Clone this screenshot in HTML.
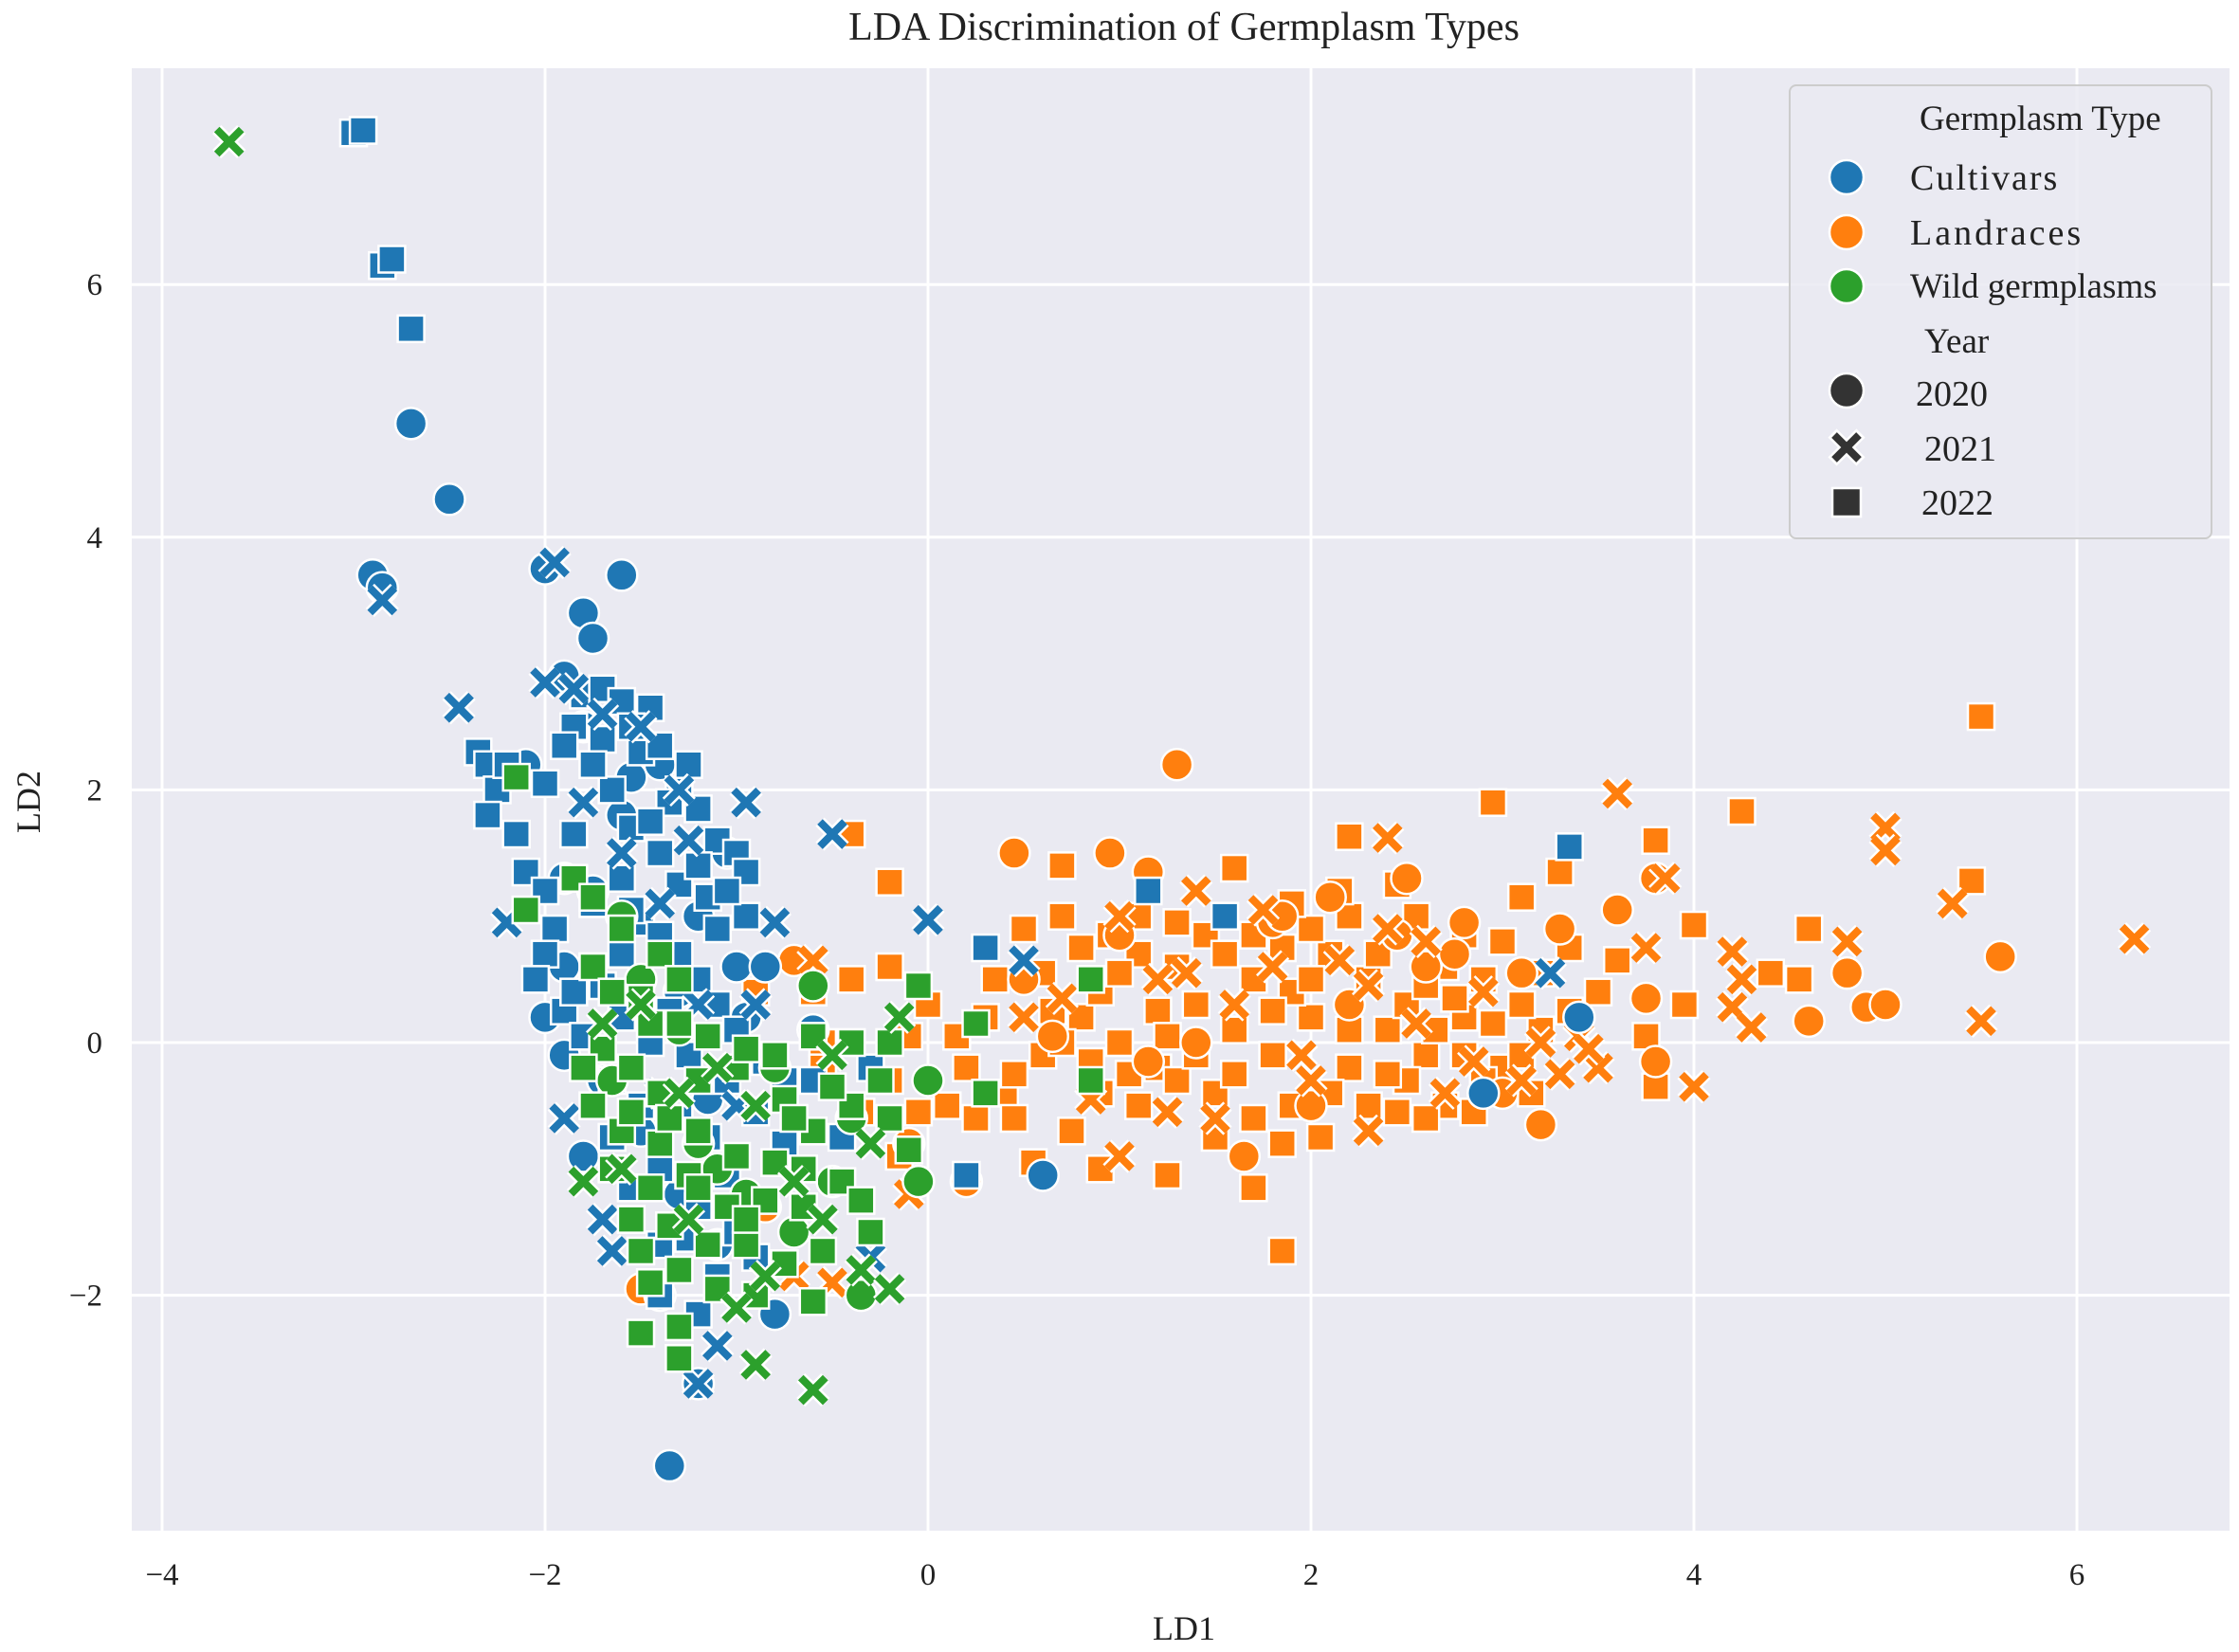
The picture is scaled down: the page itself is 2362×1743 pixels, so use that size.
<!DOCTYPE html>
<html><head><meta charset="utf-8"><style>
html,body{margin:0;padding:0;background:#fff;}
svg{display:block;font-family:"Liberation Serif",serif;}
</style></head><body>
<svg id="chart" width="2362" height="1743" viewBox="0 0 2362 1743" xmlns="http://www.w3.org/2000/svg">
<rect x="0" y="0" width="2362" height="1743" fill="#ffffff"/>
<rect x="139" y="72" width="2213" height="1543" fill="#eaeaf2"/>
<g id="grid"></g>
<g id="marks"></g>
<g id="ticks"></g>
<text x="1249" y="42" font-size="42" text-anchor="middle" fill="#222">LDA Discrimination of Germplasm Types</text>
<text x="1249" y="1730" font-size="36" text-anchor="middle" fill="#222">LD1</text>
<text x="42" y="846" font-size="36" text-anchor="middle" fill="#222" transform="rotate(-90 42 846)">LD2</text>
<g>
<rect x="1888" y="90" width="445" height="478" rx="7" fill="#eaeaf2" fill-opacity="0.85" stroke="#cccccc" stroke-width="2"/>
<text x="2025" y="137" font-size="37" fill="#222">Germplasm Type</text>
<circle cx="1948" cy="187" r="18" fill="#1f77b4" stroke="#fff" stroke-width="2.5"/>
<text x="2015" y="200" font-size="38" letter-spacing="2" fill="#222">Cultivars</text>
<circle cx="1948" cy="245" r="18" fill="#ff7f0e" stroke="#fff" stroke-width="2.5"/>
<text x="2015" y="258" font-size="38" letter-spacing="3" fill="#222">Landraces</text>
<circle cx="1948" cy="302" r="18" fill="#2ca02c" stroke="#fff" stroke-width="2.5"/>
<text x="2015" y="314" font-size="37" fill="#222">Wild germplasms</text>
<text x="2030" y="372" font-size="37" fill="#222">Year</text>
<circle cx="1948" cy="412" r="18" fill="#333" stroke="#fff" stroke-width="2.5"/>
<text x="2021" y="428" font-size="38" fill="#222">2020</text>
<path d="M1933,457 L1963,487 M1963,457 L1933,487" stroke="#fff" stroke-width="13"/>
<path d="M1935,459 L1961,485 M1961,459 L1935,485" stroke="#333" stroke-width="8"/>
<text x="2030" y="486" font-size="38" fill="#222">2021</text>
<rect x="1933" y="515" width="30" height="30" fill="#333" stroke="#fff" stroke-width="2.5"/>
<text x="2027" y="543" font-size="38" fill="#222">2022</text>
</g>
</svg>
<script>
const xTicks = [-4,-2,0,2,4,6];
const yTicks = [-2,0,2,4,6];
const colors = {cult:"#1f77b4", land:"#ff7f0e", wild:"#2ca02c"};

const cult2020 = [[-2.7,4.9],[-2.5,4.3],[-2.9,3.7],[-2.85,3.6],[-1.6,3.7],[-1.8,3.4],[-1.75,3.2],[-2,3.75],[-1.9,2.9],[-2.1,2.2],[-1.9,1.3],[-2,0.2],[-1.9,-0.1],[-1.8,-0.9],[-1.35,-3.35],[-0.8,-2.15],[-1.2,-2.7],[0.6,-1.05],[-1.4,-2],[-1.2,1],[-1,0.6],[-1.5,0.3],[-1.7,-0.3],[-1.3,-1.2],[-1.1,-1.6],[-1.6,1.8],[-1.4,2.2],[-1.8,2.5],[-1.05,1.5],[-0.85,0.6],[-0.6,0.1],[3.4,0.2],[2.9,-0.4],[-1.9,0.6],[-1.5,-0.7],[-1.75,1.2],[-1.3,0.4],[-1.15,-0.45],[-0.95,0.2],[-1.55,2.1]];
const cult2021 = [[-2.85,3.5],[-1.95,3.8],[-2.45,2.65],[-2,2.85],[-1.85,2.8],[-0.95,1.9],[-0.5,1.65],[0,0.97],[0.5,0.65],[-2.2,0.95],[-1.9,-0.6],[-1.7,-1.4],[-1.65,-1.65],[-1.2,-2.7],[-1.1,-2.4],[-0.8,0.95],[-1.3,2],[-1.6,1.5],[-1.4,1.1],[-1.2,0.3],[-0.3,-1.7],[3.25,0.55],[-1.8,1.9],[-1.5,2.5],[-1.0,-0.5],[-1.4,-0.4],[-1.7,2.6],[-1.25,1.6],[-0.9,0.3]];
const cult2022 = [[-3,7.2],[-2.95,7.22],[-2.85,6.15],[-2.8,6.2],[-2.7,5.65],[-2.35,2.3],[-2.3,2.2],[-2.25,2.0],[-2.3,1.8],[-2.15,1.65],[-2.1,1.35],[-2,1.2],[-1.95,0.9],[-2,0.7],[-2.05,0.5],[-1.9,0.25],[-1.85,2.5],[-1.8,2.75],[-1.7,2.8],[-1.6,2.7],[-1.45,2.65],[-1.5,2.3],[-1.3,2.0],[-1.2,1.85],[-1.1,1.6],[-1.0,1.5],[-0.95,1.0],[-1.7,2.4],[-1.65,2.0],[-1.55,1.7],[-1.4,1.5],[-1.3,1.25],[-1.15,1.15],[-1.6,1.3],[-1.75,1.1],[-1.5,0.95],[-1.3,0.7],[-1.2,0.5],[-1.1,0.3],[-1.75,0.6],[-1.6,0.2],[-1.45,0],[-1.25,-0.1],[-1.05,-0.3],[-0.9,-0.55],[-1.8,0.05],[-1.65,-0.3],[-1.5,-0.5],[-1.3,-0.6],[-1.65,-0.75],[-1.4,-1.0],[-1.2,-1.3],[-1.0,-1.5],[-0.9,-1.7],[-1.1,-1.85],[-1.4,-1.6],[-1.4,-2.0],[-1.2,-2.15],[1.15,1.2],[1.55,1.0],[0.3,0.75],[0.2,-1.05],[3.35,1.55],[-0.75,-0.8],[-0.6,-0.3],[-0.45,-0.75],[-0.3,-0.2],[-0.95,1.35],[-1.85,1.65],[-2.0,2.05],[-1.9,2.35],[-1.75,2.2],[-1.55,2.5],[-1.4,2.35],[-1.25,2.2],[-1.35,1.9],[-1.45,1.75],[-1.2,1.4],[-1.05,1.2],[-1.1,0.9],[-1.4,0.85],[-1.6,0.7],[-1.85,0.4],[-1.7,0.45],[-1.35,0.25],[-1.0,0.1],[-0.85,-0.15],[-1.15,-0.75],[-1.55,-1.15],[-1.25,-1.55],[-1.05,-1.05],[-0.75,-0.3],[-1.55,1.05],[-2.2,2.2]];
const land2020 = [[1.3,2.2],[0.45,1.5],[0.95,1.5],[1.15,1.35],[2.5,1.3],[3.6,1.05],[3.8,1.3],[5.6,0.68],[4.8,0.55],[4.9,0.28],[5.0,0.3],[4.6,0.17],[3.8,-0.15],[3.2,-0.65],[3.0,-0.4],[1.65,-0.9],[2.1,1.15],[2.8,0.95],[3.3,0.9],[1.8,0.95],[-0.7,0.65],[-0.1,-0.8],[0.2,-1.1],[0.5,0.5],[2.2,0.3],[1.0,0.85],[3.75,0.35],[2.0,-0.5],[1.4,0.0],[2.6,0.6],[-1.5,-1.95],[-0.85,-1.3],[1.85,1.0],[2.45,0.85],[2.75,0.7],[3.1,0.55],[0.65,0.05],[1.15,-0.15]];
const land2021 = [[3.6,1.97],[2.4,1.62],[5.0,1.7],[5.0,1.52],[3.85,1.3],[5.35,1.1],[6.3,0.82],[4.8,0.8],[3.75,0.75],[4.2,0.72],[4.25,0.5],[4.2,0.28],[4.3,0.12],[5.5,0.17],[4.0,-0.35],[3.4,0.05],[3.5,-0.2],[3.3,-0.25],[1.4,1.2],[1.0,1.0],[2.4,0.9],[2.6,0.8],[1.2,0.5],[0.7,0.35],[0.5,0.2],[1.5,-0.6],[1.0,-0.9],[2.3,-0.7],[-0.6,0.65],[-0.7,-1.85],[-0.5,-1.9],[-0.1,-1.2],[1.8,0.6],[2.9,0.4],[2.0,-0.3],[1.35,0.55],[1.6,0.3],[2.15,0.65],[2.55,0.15],[2.85,-0.15],[3.2,0.0],[1.95,-0.1],[1.25,-0.55],[0.85,-0.45],[2.7,-0.4],[1.75,1.05],[2.3,0.45],[3.45,-0.05],[3.1,-0.3]];
const land2022 = [[5.5,2.58],[2.95,1.9],[4.25,1.83],[2.2,1.63],[3.8,1.6],[-0.4,1.65],[0.7,1.4],[1.6,1.38],[3.3,1.35],[5.45,1.28],[-0.2,1.27],[3.1,1.15],[0.7,1.0],[4.0,0.93],[4.6,0.9],[0.95,0.85],[3.35,0.75],[3.6,0.65],[4.4,0.55],[4.55,0.5],[3.95,0.3],[3.5,0.4],[3.75,0.05],[3.8,-0.35],[1.85,-1.65],[1.7,-1.15],[1.25,-1.05],[0.9,-1.0],[0.55,-0.95],[-0.4,0.5],[-0.6,0.4],[-0.35,-0.55],[-0.1,0.05],[0.2,-0.2],[0.4,-0.4],[0.6,-0.1],[0.8,0.2],[1.0,0.0],[1.2,-0.2],[1.4,0.3],[1.6,0.1],[1.8,-0.1],[2.0,0.2],[2.2,-0.2],[2.4,0.1],[2.6,-0.1],[2.8,0.2],[3.0,-0.2],[3.2,0.1],[1.1,0.7],[1.3,0.6],[1.7,0.5],[1.9,0.4],[2.1,0.7],[2.3,0.5],[2.5,0.3],[2.7,0.6],[2.9,0.5],[3.1,0.3],[0.9,0.4],[0.7,0.0],[0.9,-0.4],[1.1,-0.5],[1.3,-0.3],[1.5,-0.4],[1.7,-0.6],[1.9,-0.5],[2.1,-0.4],[2.3,-0.5],[2.5,-0.3],[2.7,-0.5],[2.9,-0.3],[3.1,-0.1],[2.0,0.9],[2.2,1.0],[2.45,1.25],[1.85,0.75],[1.45,0.85],[0.3,0.2],[0.1,-0.5],[-0.2,-0.3],[0.0,0.3],[0.45,-0.6],[0.75,-0.7],[-0.15,-0.9],[2.6,-0.6],[2.8,-0.1],[3.2,0.55],[-0.55,0.0],[-0.9,0.4],[-0.75,-0.3],[-0.55,-0.2],[-0.2,0.6],[0.5,0.9],[0.6,0.55],[0.8,0.75],[1.0,0.55],[1.2,0.25],[1.4,-0.1],[1.6,-0.25],[1.8,0.25],[2.0,0.5],[2.2,0.1],[2.4,-0.25],[2.6,0.45],[2.8,0.85],[3.0,0.8],[1.1,1.0],[1.3,0.95],[1.55,0.7],[1.7,0.85],[1.9,1.1],[2.15,1.2],[2.35,0.7],[2.55,1.0],[2.75,0.35],[2.95,0.15],[3.15,-0.4],[3.35,0.25],[1.25,0.05],[1.05,-0.25],[0.85,-0.15],[0.65,0.25],[0.45,-0.25],[0.25,-0.6],[0.35,0.5],[1.5,-0.75],[1.85,-0.8],[2.05,-0.75],[2.45,-0.55],[2.65,0.1],[2.85,-0.55],[0.15,0.05],[-0.05,-0.55]];
const wild2020 = [[-0.6,0.45],[-0.35,-2.0],[-0.05,-1.1],[-1.65,-0.3],[-1.5,0.5],[-1.2,-0.8],[-0.95,-1.2],[-0.7,-1.5],[-0.4,-0.6],[-1.3,0.1],[0.0,-0.3],[-1.6,1.0],[-0.8,-0.2],[-1.1,-1.0],[-0.5,-1.1]];
const wild2021 = [[-3.65,7.13],[-0.6,-2.75],[-0.9,-2.55],[-1.0,-2.1],[-0.35,-1.8],[-0.2,-1.95],[-1.8,-1.1],[-1.6,-1.0],[-0.55,-1.4],[-0.7,-1.1],[-0.9,-0.5],[-1.3,-0.4],[-1.1,-0.2],[-1.5,0.3],[-0.3,-0.8],[-0.5,-0.1],[-1.7,0.15],[-0.15,0.2],[-1.25,-1.4],[-0.85,-1.85]];
const wild2022 = [[-2.15,2.1],[-2.1,1.05],[-1.85,1.3],[-1.75,1.15],[-1.75,0.6],[-1.6,0.9],[-1.4,0.7],[-1.5,0.35],[-1.3,0.15],[-1.7,-0.05],[-1.8,-0.2],[-1.55,-0.2],[-1.4,-0.4],[-1.2,-0.3],[-1.0,-0.2],[-0.8,-0.1],[-0.6,0.05],[-0.4,0.0],[-0.2,0.0],[-0.05,0.45],[0.25,0.15],[0.85,0.5],[-1.75,-0.5],[-1.6,-0.7],[-1.4,-0.8],[-1.2,-0.7],[-1.0,-0.9],[-0.8,-0.95],[-0.6,-0.7],[-0.4,-0.5],[-0.2,-0.6],[-0.1,-0.85],[-1.65,-1.0],[-1.45,-1.15],[-1.25,-1.05],[-1.05,-1.3],[-0.85,-1.25],[-0.65,-1.3],[-0.45,-1.1],[-1.55,-1.4],[-1.35,-1.45],[-1.15,-1.6],[-0.95,-1.6],[-0.75,-1.75],[-0.55,-1.65],[-0.3,-1.5],[-1.5,-1.65],[-1.3,-1.8],[-1.1,-1.95],[-0.9,-2.0],[-0.6,-2.05],[-1.5,-2.3],[-1.3,-2.25],[-1.3,-2.5],[-1.45,-1.9],[0.3,-0.4],[0.85,-0.3],[-1.65,0.4],[-1.3,0.5],[-0.75,-0.45],[-1.45,0.15],[-1.15,0.05],[-0.95,-0.05],[-0.7,-0.6],[-0.5,-0.35],[-0.25,-0.3],[-1.35,-0.6],[-1.55,-0.55],[-0.95,-1.4],[-0.65,-1.0],[-0.35,-1.25],[-1.2,-1.15]];

const X0 = 979, XS = 202, Y0 = 1100, YS = 133.3;
function xScale(v){ return X0 + v*XS; }
function yScale(v){ return Y0 - v*YS; }
const NS = "http://www.w3.org/2000/svg";
const grid = document.getElementById('grid');
const ticks = document.getElementById('ticks');
const marks = document.getElementById('marks');

xTicks.forEach(t => {
  const l = document.createElementNS(NS,'line');
  l.setAttribute('x1', xScale(t)); l.setAttribute('x2', xScale(t));
  l.setAttribute('y1', 72); l.setAttribute('y2', 1615);
  l.setAttribute('stroke', '#fff'); l.setAttribute('stroke-width', 3);
  
  
  grid.appendChild(l);
  const tx = document.createElementNS(NS,'text');
  tx.setAttribute('x', xScale(t)); tx.setAttribute('y', 1672);
  tx.setAttribute('font-size', 33); tx.setAttribute('text-anchor', 'middle'); tx.setAttribute('fill', '#222');
  tx.textContent = t < 0 ? '\u2212' + Math.abs(t) : String(t);
  
  
  ticks.appendChild(tx);
});
yTicks.forEach(t => {
  const l = document.createElementNS(NS,'line');
  l.setAttribute('x1', 139); l.setAttribute('x2', 2352);
  l.setAttribute('y1', yScale(t)); l.setAttribute('y2', yScale(t));
  l.setAttribute('stroke', '#fff'); l.setAttribute('stroke-width', 3);
  
  
  grid.appendChild(l);
  const tx = document.createElementNS(NS,'text');
  tx.setAttribute('x', 108); tx.setAttribute('y', yScale(t) + 11);
  tx.setAttribute('font-size', 33); tx.setAttribute('text-anchor', 'end'); tx.setAttribute('fill', '#222');
  tx.textContent = t < 0 ? '\u2212' + Math.abs(t) : String(t);
  
  
  ticks.appendChild(tx);
});

function drawPoint(p, color, shape){
  const cx = xScale(p[0]), cy = yScale(p[1]);
  let el;
  if (shape === 'circle') {
    el = document.createElementNS(NS,'circle');
    el.setAttribute('cx', cx); el.setAttribute('cy', cy); el.setAttribute('r', 16.5);
    el.setAttribute('fill', color); el.setAttribute('stroke', '#fff'); el.setAttribute('stroke-width', 2.5);
  } else if (shape === 'square') {
    el = document.createElementNS(NS,'rect');
    el.setAttribute('x', cx-14); el.setAttribute('y', cy-14); el.setAttribute('width', 28); el.setAttribute('height', 28);
    el.setAttribute('fill', color); el.setAttribute('stroke', '#fff'); el.setAttribute('stroke-width', 2.5);
  } else {
    el = document.createElementNS(NS,'g');
    const d = `M${cx-13},${cy-13} L${cx+13},${cy+13} M${cx+13},${cy-13} L${cx-13},${cy+13}`;
    const o = document.createElementNS(NS,'path');
    o.setAttribute('d', d); o.setAttribute('stroke', '#fff'); o.setAttribute('stroke-width', 13);
    const f = document.createElementNS(NS,'path');
    f.setAttribute('d', d); f.setAttribute('stroke', color); f.setAttribute('stroke-width', 8);
    el.appendChild(o); el.appendChild(f);
  }
  
  
  marks.appendChild(el);
}
const series = [
  [land2022, colors.land, 'square'], [land2020, colors.land, 'circle'], [land2021, colors.land, 'x'],
  [cult2020, colors.cult, 'circle'], [cult2022, colors.cult, 'square'], [cult2021, colors.cult, 'x'],
  [wild2020, colors.wild, 'circle'], [wild2022, colors.wild, 'square'], [wild2021, colors.wild, 'x']
];
series.forEach(s => s[0].forEach(p => drawPoint(p, s[1], s[2])));
</script>
</body></html>
